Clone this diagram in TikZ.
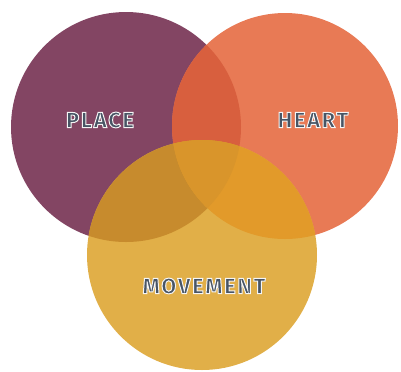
\documentclass[tikz,border=0pt]{standalone}
\usepackage{fontspec}
\newfontfamily\vennfont{Fira Sans}[LetterSpace=8]
\usetikzlibrary{positioning}
\definecolor{placecol}{HTML}{834563}
\definecolor{heartcol}{HTML}{E87A55}
\definecolor{movecol}{HTML}{E1AF48}
\definecolor{phcol}{HTML}{D85F3E}
\definecolor{pmcol}{HTML}{C78B2D}
\definecolor{hmcol}{HTML}{E29A2A}
\definecolor{phmcol}{HTML}{D9952B}
\definecolor{labelcol}{HTML}{485565}
\tikzstyle{venn} = [text=labelcol, font=\vennfont\bfseries\fontsize{15.5}{18}\selectfont]
\newcommand{\vennlabel}[1]{\special{pdf:literal direct 0.96 0.96 0.96 RG 0.7 w 2 Tr}#1\special{pdf:literal direct 0 Tr}}

\begin{document}
\begin{tikzpicture}[x=0.025cm, y=-0.025cm]
	\useasboundingbox (0,0) rectangle (401,371);
	\coordinate (place) at (126,127);
	\coordinate (heart) at (285,126);
	\coordinate (movement) at (202,255);
	\fill [placecol] (place) circle (115);
	\fill [heartcol] (heart) circle (113);
	\fill [movecol] (movement) circle (115);
	% overlaps
	\begin{scope}
		\clip (place) circle (115);
		\fill [phcol] (heart) circle (113);
		\fill [pmcol] (movement) circle (115);
	\end{scope}
	\begin{scope}
		\clip (heart) circle (113);
		\fill [hmcol] (movement) circle (115);
		\clip (place) circle (115);
		\fill [phmcol] (movement) circle (115);
	\end{scope}
	\node (placelabel) [venn] at (100,120) {\vennlabel{PLACE}};
	\node (heartlabel) [venn] at (313,120) {\vennlabel{HEART}};
	\node (movelabel) [venn] at (204,286) {\vennlabel{MOVEMENT}};
\end{tikzpicture}
\end{document}
